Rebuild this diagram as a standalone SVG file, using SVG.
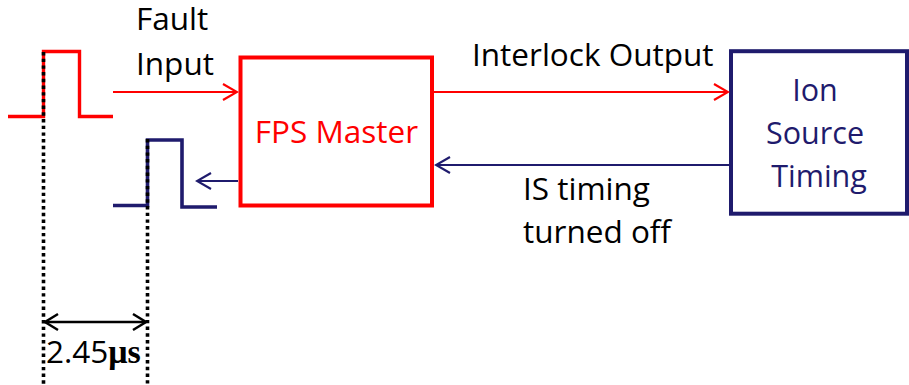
<svg xmlns="http://www.w3.org/2000/svg" width="909" height="385" viewBox="0 0 909 385">
  <defs>
    <style>
      .lbl { font-family: "Open Sans", "Liberation Sans", sans-serif; font-size: 31.5px; }
      .box-lbl { font-family: "Open Sans", "Liberation Sans", sans-serif; font-size: 30.5px; }
      .red { stroke: #ff0000; fill: none; }
      .navy { stroke: #1f1b6d; fill: none; }
      .dot { stroke: #000; stroke-width: 3.6; stroke-dasharray: 3.4 3.3; fill: none; }
    </style>
    <marker id="headRed" viewBox="-16 -10 18 20" refX="0" refY="0" markerWidth="18" markerHeight="20" markerUnits="userSpaceOnUse" orient="auto">
      <path d="M-14,-8 L0,0 L-14,8" fill="none" stroke="#ff0000" stroke-width="2.2"/>
    </marker>
    <marker id="headNavy" viewBox="-16 -10 18 20" refX="0" refY="0" markerWidth="18" markerHeight="20" markerUnits="userSpaceOnUse" orient="auto">
      <path d="M-14,-8 L0,0 L-14,8" fill="none" stroke="#1f1b6d" stroke-width="2.2"/>
    </marker>
    <marker id="headBlack" viewBox="-16 -10 18 20" refX="0" refY="0" markerWidth="18" markerHeight="20" markerUnits="userSpaceOnUse" orient="auto-start-reverse">
      <path d="M-13,-8 L0,0 L-13,8" fill="none" stroke="#000" stroke-width="2.5"/>
    </marker>
  </defs>
  <rect width="909" height="385" fill="#fff"/>

  <!-- input and response pulses -->
  <g id="fault-pulse">
    <path class="red" stroke-width="3.4" d="M8,116.5 H43.5 V51.5 H79.5 V116.5 H113"/>
  </g>
  <g id="timing-pulse">
    <path class="navy" stroke-width="3.6" d="M113,205.5 H147.5 V140 H182 V207 H217"/>
  </g>

  <!-- timing reference lines -->
  <g id="reference-lines">
    <line class="dot" x1="43.5" y1="52" x2="43.5" y2="385"/>
    <line class="dot" x1="147.5" y1="139" x2="147.5" y2="385"/>
  </g>

  <g id="fps-master">
    <rect x="240.5" y="57.5" width="191.5" height="148" fill="#fff" stroke="#ff0000" stroke-width="4"/>
    <text class="lbl" x="336.5" y="143" text-anchor="middle" fill="#ff0000">FPS Master</text>
  </g>

  <g id="ion-source-timing">
    <rect x="731" y="51.2" width="176" height="162.5" fill="#fff" stroke="#1f1b6d" stroke-width="4"/>
    <text class="box-lbl" text-anchor="middle" fill="#1f1b6d">
      <tspan x="819" y="101">Ion</tspan>
      <tspan x="819" y="144">Source</tspan>
      <tspan x="819" y="187">Timing</tspan>
    </text>
  </g>

  <g id="connectors">
    <line class="red" stroke-width="2" x1="113" y1="92" x2="237" y2="92" marker-end="url(#headRed)"/>
    <line class="red" stroke-width="2" x1="434" y1="92" x2="728" y2="92" marker-end="url(#headRed)"/>
    <line class="navy" stroke-width="2" x1="729" y1="165" x2="436" y2="165" marker-end="url(#headNavy)"/>
    <line class="navy" stroke-width="2" x1="238" y1="181" x2="197" y2="181" marker-end="url(#headNavy)"/>
    <line stroke="#000" stroke-width="2.5" x1="45" y1="322" x2="146" y2="322" marker-start="url(#headBlack)" marker-end="url(#headBlack)"/>
  </g>

  <g id="labels">
    <text class="lbl" fill="#000">
      <tspan x="136" y="30">Fault</tspan>
      <tspan x="136" y="75">Input</tspan>
    </text>
    <text class="lbl" x="472" y="66" fill="#000">Interlock Output</text>
    <text class="lbl" fill="#000">
      <tspan x="523" y="200">IS timing</tspan>
      <tspan x="523" y="243">turned off</tspan>
    </text>
    <text x="46" y="363" fill="#000"><tspan class="lbl">2.45</tspan><tspan font-family="'Liberation Serif', serif" font-weight="bold" font-size="34">μs</tspan></text>
  </g>
</svg>
